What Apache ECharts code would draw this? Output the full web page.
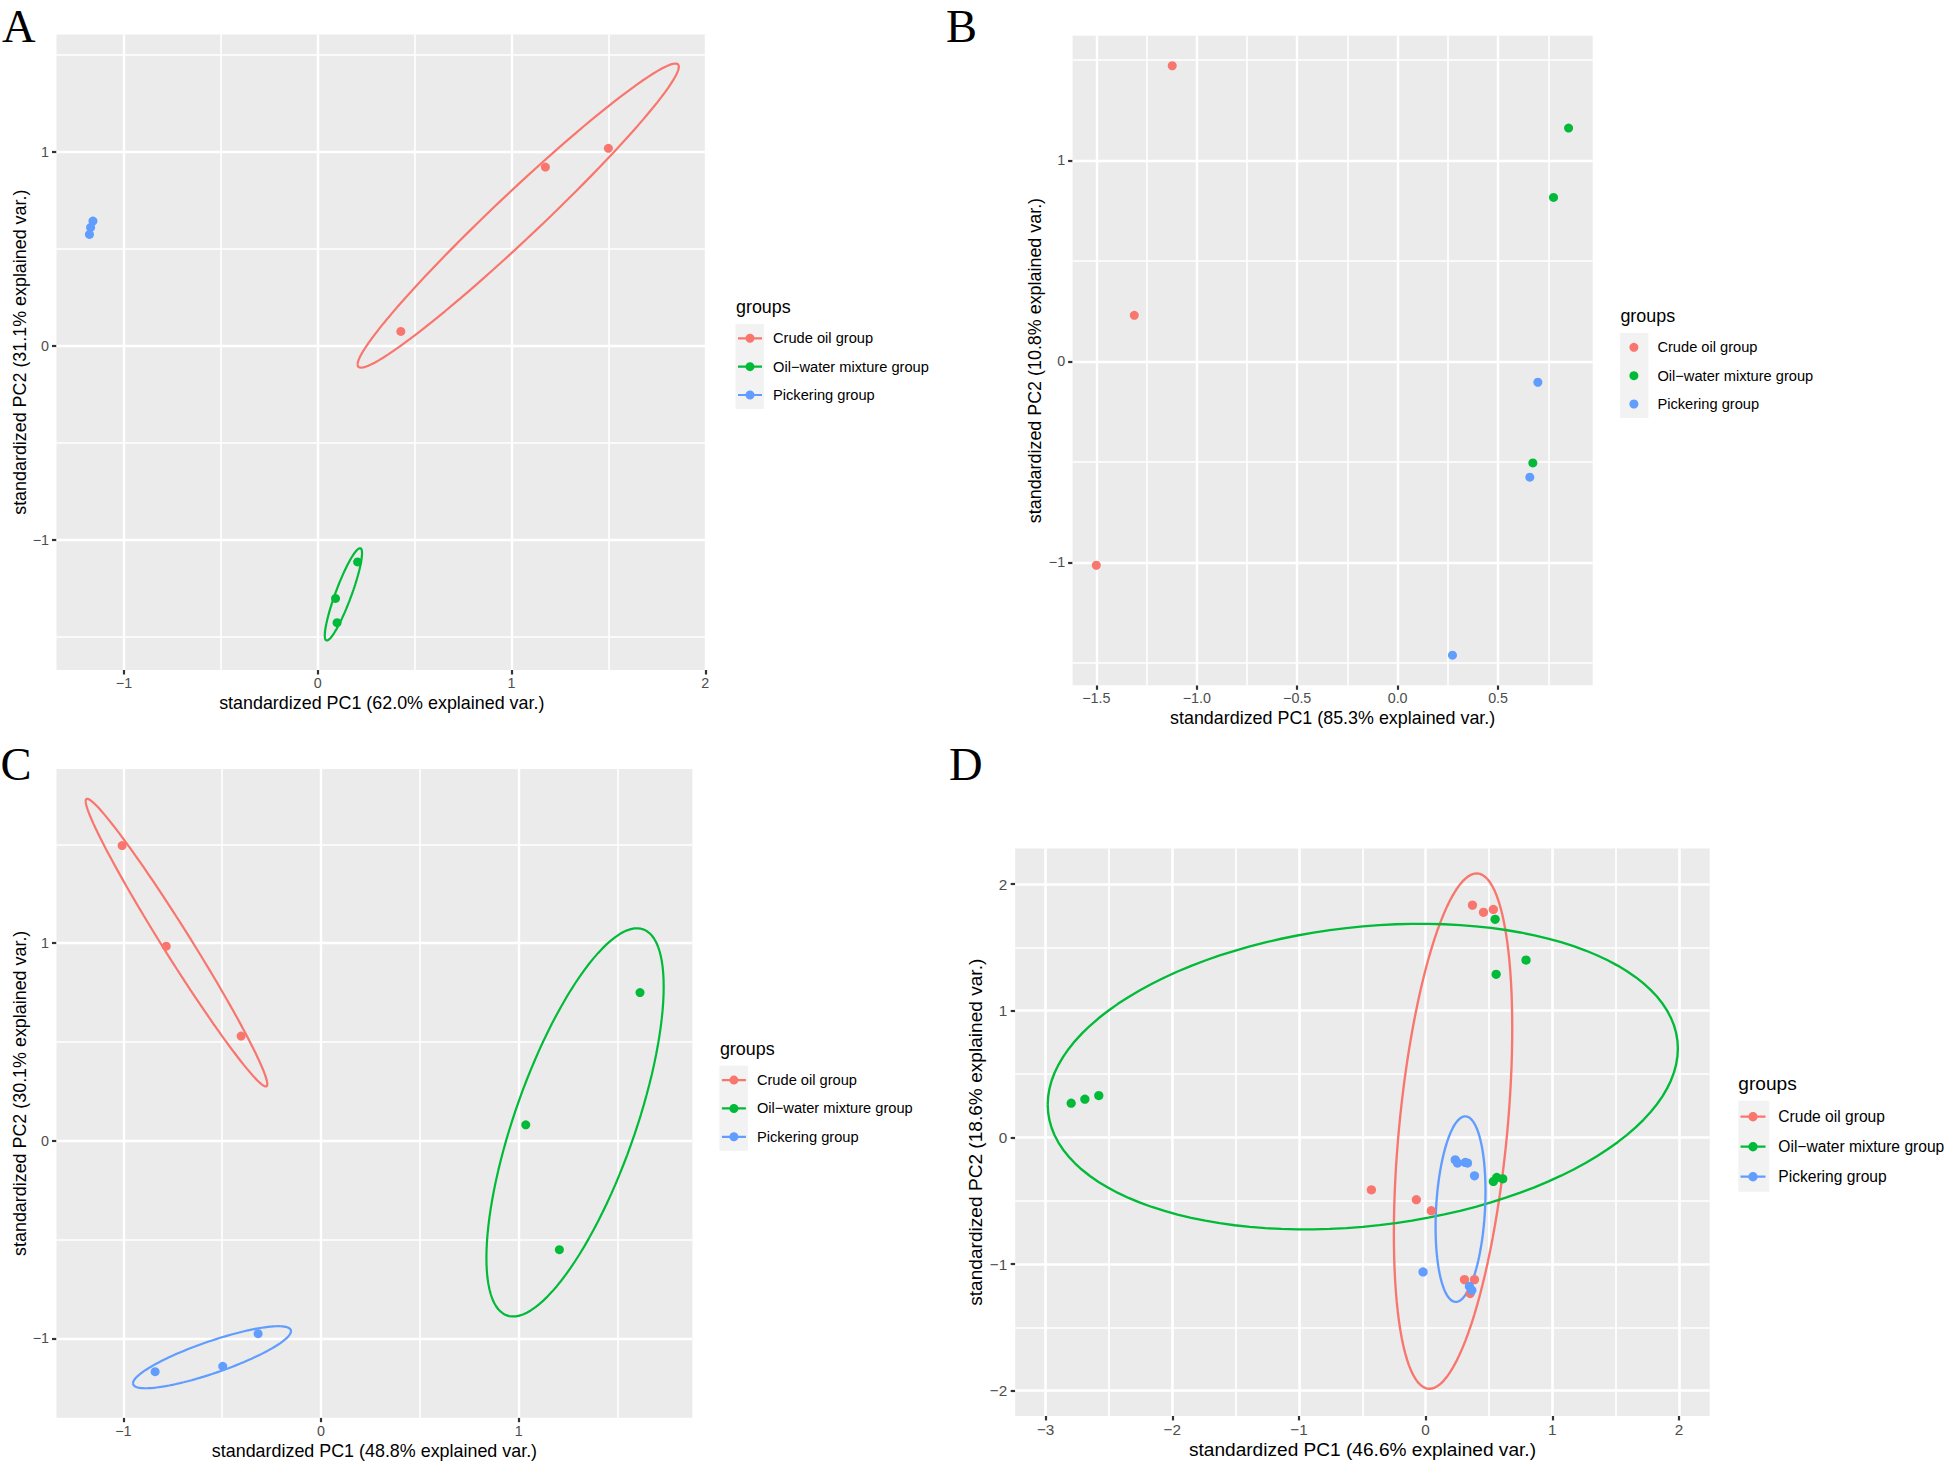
<!DOCTYPE html>
<html>
<head>
<meta charset="utf-8">
<script src="https://cdn.jsdelivr.net/npm/echarts@6/dist/echarts.min.js"></script>
<style>
html,body{margin:0;padding:0;background:#ffffff;}
#chart{width:1945px;height:1461px;}
</style>
</head>
<body>
<div id="chart"></div>
<script>
// ---------------- DATA ----------------
const GROUPS = ["Crude oil group", "Oil\u2212water mixture group", "Pickering group"];

// Panel A
const A_crude     = [[0.429, 0.076], [1.175, 0.923], [1.500, 1.020]];
const A_oilwater  = [[0.206, -1.112], [0.092, -1.300], [0.100, -1.425]];
const A_pickering = [[-1.160, 0.645], [-1.172, 0.612], [-1.178, 0.576]];
const A_xTicks = [-1, 0, 1, 2];
const A_xTickLabels = ["\u22121", "0", "1", "2"];
const A_xMinor = [-0.5, 0.5, 1.5];
const A_yTicks = [-1, 0, 1];
const A_yTickLabels = ["\u22121", "0", "1"];
const A_yMinor = [-1.5, -0.5, 0.5, 1.5];
const A_xTitle = "standardized PC1 (62.0% explained var.)";
const A_yTitle = "standardized PC2 (31.1% explained var.)";

// Panel B
const B_crude     = [[-1.122, 1.470], [-1.311, 0.229], [-1.500, -1.014]];
const B_oilwater  = [[0.851, 1.160], [0.776, 0.815], [0.673, -0.505]];
const B_pickering = [[0.698, -0.104], [0.658, -0.576], [0.273, -1.461]];
const B_xTicks = [-1.5, -1.0, -0.5, 0.0, 0.5];
const B_xTickLabels = ["\u22121.5", "\u22121.0", "\u22120.5", "0.0", "0.5"];
const B_xMinor = [-1.25, -0.75, -0.25, 0.25, 0.75];
const B_yTicks = [-1, 0, 1];
const B_yTickLabels = ["\u22121", "0", "1"];
const B_yMinor = [-1.5, -0.5, 0.5, 1.5];
const B_xTitle = "standardized PC1 (85.3% explained var.)";
const B_yTitle = "standardized PC2 (10.8% explained var.)";

// Panel C
const C_crude     = [[-1.006, 1.494], [-0.783, 0.985], [-0.404, 0.530]];
const C_oilwater  = [[1.614, 0.750], [1.036, 0.081], [1.206, -0.551]];
const C_pickering = [[-0.839, -1.168], [-0.497, -1.141], [-0.318, -0.976]];
const C_xTicks = [-1, 0, 1];
const C_xTickLabels = ["\u22121", "0", "1"];
const C_xMinor = [-0.5, 0.5, 1.5];
const C_yTicks = [-1, 0, 1];
const C_yTickLabels = ["\u22121", "0", "1"];
const C_yMinor = [-0.5, 0.5, 1.5];
const C_xTitle = "standardized PC1 (48.8% explained var.)";
const C_yTitle = "standardized PC2 (30.1% explained var.)";

// Panel D
const D_crude     = [[0.370, 1.834], [0.457, 1.777], [0.535, 1.800], [-0.428, -0.414], [-0.073, -0.492],
                     [0.045, -0.579], [0.307, -1.123], [0.386, -1.123], [0.352, -1.233]];
const D_oilwater  = [[-2.798, 0.270], [-2.690, 0.302], [-2.580, 0.330], [0.549, 1.722], [0.557, 1.288],
                     [0.793, 1.400], [0.535, -0.348], [0.562, -0.316], [0.609, -0.327]];
const D_pickering = [[0.234, -0.177], [0.252, -0.203], [0.313, -0.198], [0.331, -0.203], [0.386, -0.303],
                     [-0.020, -1.062], [0.346, -1.176], [0.365, -1.207]];
const D_xTicks = [-3, -2, -1, 0, 1, 2];
const D_xTickLabels = ["\u22123", "\u22122", "\u22121", "0", "1", "2"];
const D_xMinor = [-2.5, -1.5, -0.5, 0.5, 1.5];
const D_yTicks = [-2, -1, 0, 1, 2];
const D_yTickLabels = ["\u22122", "\u22121", "0", "1", "2"];
const D_yMinor = [-1.5, -0.5, 0.5, 1.5];
const D_xTitle = "standardized PC1 (46.6% explained var.)";
const D_yTitle = "standardized PC2 (18.6% explained var.)";

// ---------------- STYLE / LAYOUT ----------------
const COLORS = ["#F8766D", "#00BA38", "#619CFF"];
const SANS = "'Liberation Sans', Arial, Helvetica, sans-serif";
const SERIF = "'Liberation Serif', 'Times New Roman', serif";
const ELLIPSE_PROB = 0.68;

// normal-data ellipse (as in ggbiplot): mean + sqrt(qchisq(p,2)) * circle %*% chol(cov)
function ellipse(pts, prob, n) {
  const m = pts.length;
  let mx = 0, my = 0;
  pts.forEach(p => { mx += p[0]; my += p[1]; });
  mx /= m; my /= m;
  let sxx = 0, syy = 0, sxy = 0;
  pts.forEach(p => {
    const dx = p[0] - mx, dy = p[1] - my;
    sxx += dx * dx; syy += dy * dy; sxy += dx * dy;
  });
  sxx /= (m - 1); syy /= (m - 1); sxy /= (m - 1);
  const ed = Math.sqrt(-2 * Math.log(1 - prob));
  const r11 = Math.sqrt(sxx);
  const r12 = r11 > 0 ? sxy / r11 : 0;
  const r22 = Math.sqrt(Math.max(syy - r12 * r12, 0));
  const out = [];
  for (let i = 0; i <= n; i++) {
    const t = -Math.PI + 2 * Math.PI * i / n;
    const c = Math.cos(t), s = Math.sin(t);
    out.push([mx + ed * c * r11, my + ed * (c * r12 + s * r22)]);
  }
  return out;
}

const panels = [
  { key: "A", groups: [A_crude, A_oilwater, A_pickering], ellipses: true,
    grid: { left: 56.5, top: 34.4, width: 650.5, height: 635.6 },
    xr: [-1.348, 2.009], yr: [-1.669, 1.607],
    xT: A_xTicks, xL: A_xTickLabels, xM: A_xMinor, yT: A_yTicks, yL: A_yTickLabels, yM: A_yMinor,
    xTitle: A_xTitle, yTitle: A_yTitle, fs: 14.3, tfs: 17.9, xGap: 24, yGap: 28, k: 1 },
  { key: "B", groups: [B_crude, B_oilwater, B_pickering], ellipses: false,
    grid: { left: 1072.6, top: 35.8, width: 520.1, height: 649.5 },
    xr: [-1.618, 0.971], yr: [-1.611, 1.619],
    xT: B_xTicks, xL: B_xTickLabels, xM: B_xMinor, yT: B_yTicks, yL: B_yTickLabels, yM: B_yMinor,
    xTitle: B_xTitle, yTitle: B_yTitle, fs: 14.3, tfs: 17.9, xGap: 24, yGap: 29, k: 1 },
  { key: "C", groups: [C_crude, C_oilwater, C_pickering], ellipses: true,
    grid: { left: 56.5, top: 768.9, width: 635.9, height: 648.8 },
    xr: [-1.338, 1.879], yr: [-1.401, 1.882],
    xT: C_xTicks, xL: C_xTickLabels, xM: C_xMinor, yT: C_yTicks, yL: C_yTickLabels, yM: C_yMinor,
    xTitle: C_xTitle, yTitle: C_yTitle, fs: 14.3, tfs: 17.9, xGap: 24, yGap: 28, k: 1 },
  { key: "D", groups: [D_crude, D_oilwater, D_pickering], ellipses: true,
    grid: { left: 1015.2, top: 848.5, width: 694.5, height: 567.4 },
    xr: [-3.240, 2.243], yr: [-2.199, 2.281],
    xT: D_xTicks, xL: D_xTickLabels, xM: D_xMinor, yT: D_yTicks, yL: D_yTickLabels, yM: D_yMinor,
    xTitle: D_xTitle, yTitle: D_yTitle, fs: 15.3, tfs: 19.1, xGap: 24, yGap: 30.5, k: 1.065 }
];

function labelFor(ticks, labels) {
  return function (v) {
    for (let i = 0; i < ticks.length; i++) if (Math.abs(ticks[i] - v) < 1e-9) return labels[i];
    return "";
  };
}

const grids = [], xAxes = [], yAxes = [], series = [];
panels.forEach((p, i) => {
  grids.push(Object.assign({ show: true, backgroundColor: "#EBEBEB", borderWidth: 0,
    containLabel: false, outerBoundsMode: "none" }, p.grid));
  const tickStyle = { show: true, length: 4.5, inside: false, lineStyle: { color: "#333333", width: 2.2 } };
  xAxes.push({
    type: "value", gridIndex: i, min: p.xr[0], max: p.xr[1],
    axisLine: { show: false, onZero: false },
    axisTick: Object.assign({ customValues: p.xT }, tickStyle),
    axisLabel: { customValues: p.xT, formatter: labelFor(p.xT, p.xL), color: "#4D4D4D",
      fontSize: p.fs, fontFamily: SANS, margin: 6 * p.k, hideOverlap: false },
    splitLine: { show: false }, minorSplitLine: { show: false },
    name: p.xTitle, nameLocation: "middle", nameGap: p.xGap,
    nameTextStyle: { color: "#000000", fontSize: p.tfs, fontFamily: SANS }
  });
  yAxes.push({
    type: "value", gridIndex: i, min: p.yr[0], max: p.yr[1],
    axisLine: { show: false, onZero: false },
    axisTick: Object.assign({ customValues: p.yT }, tickStyle),
    axisLabel: { customValues: p.yT, formatter: labelFor(p.yT, p.yL), color: "#4D4D4D",
      fontSize: p.fs, fontFamily: SANS, margin: 7.5 * p.k, hideOverlap: false },
    splitLine: { show: false }, minorSplitLine: { show: false },
    name: p.yTitle, nameLocation: "middle", nameGap: p.yGap, nameRotate: 90,
    nameTextStyle: { color: "#000000", fontSize: p.tfs, fontFamily: SANS }
  });

  // grid lines (major + minor) as white reference lines
  const maj = 2.4 * p.k, mnr = 1.6 * p.k;
  const ml = [];
  p.xM.forEach(v => ml.push({ xAxis: v, lineStyle: { width: mnr } }));
  p.yM.forEach(v => ml.push({ yAxis: v, lineStyle: { width: mnr } }));
  p.xT.forEach(v => ml.push({ xAxis: v, lineStyle: { width: maj } }));
  p.yT.forEach(v => ml.push({ yAxis: v, lineStyle: { width: maj } }));
  series.push({
    type: "line", name: "gridlines " + p.key, xAxisIndex: i, yAxisIndex: i, data: [],
    silent: true, z: 1,
    markLine: { silent: true, z: 1, animation: false, symbol: ["none", "none"],
      label: { show: false }, emphasis: { disabled: true },
      lineStyle: { color: "#FFFFFF", type: "solid", width: maj }, data: ml }
  });

  p.groups.forEach((pts, g) => {
    if (p.ellipses) {
      series.push({
        type: "line", name: GROUPS[g] + " ellipse " + p.key, xAxisIndex: i, yAxisIndex: i,
        data: ellipse(pts, ELLIPSE_PROB, 120), showSymbol: false, symbol: "none", smooth: false,
        silent: true, z: 3, lineStyle: { color: COLORS[g], width: 2.2 * p.k },
        emphasis: { disabled: true }
      });
    }
    series.push({
      type: "scatter", name: GROUPS[g], xAxisIndex: i, yAxisIndex: i, data: pts,
      symbol: "circle", symbolSize: 9 * (p.k > 1 ? 1.03 : 1), silent: true, z: 4,
      itemStyle: { color: COLORS[g], opacity: 1, borderWidth: 0 },
      emphasis: { disabled: true }
    });
  });
});

// legend icons
const ICON_LINE = "path://M0,3.4 L24,3.4 L24,5.6 L0,5.6 Z M16.5,4.5 A4.5,4.5 0 1 1 7.5,4.5 A4.5,4.5 0 1 1 16.5,4.5 Z";

function legendCfg(left, top, gap, icon, fs, lh, pad, w, h) {
  return {
    show: true, orient: "vertical", left: left, top: top, padding: 0, itemGap: gap,
    itemWidth: w, itemHeight: h, icon: icon, selectedMode: false, data: GROUPS,
    textStyle: { color: "#000000", fontSize: fs, fontFamily: SANS, lineHeight: lh, padding: [0, 0, 0, pad] }
  };
}
const legends = [
  legendCfg(738, 330.3, 12.35, ICON_LINE, 14.65, 16, 6, 24, 9),
  legendCfg(1629.4, 339.3, 12.35, "circle", 14.65, 16, 6.5, 24, 9),
  legendCfg(721.9, 1072.1, 12.35, ICON_LINE, 14.65, 16, 6, 24, 9),
  legendCfg(1740.5, 1108.2, 13, ICON_LINE, 15.6, 17, 7.8, 25, 9.4)
];

function keyRect(x, y, w, h) {
  return { type: "rect", z: 0, silent: true, shape: { x: x, y: y, width: w, height: h },
    style: { fill: "#F2F2F2" } };
}
function txt(x, y, s, font) {
  return { type: "text", z: 10, silent: true, x: x, y: y,
    style: { text: s, font: font, fill: "#000000", align: "left", verticalAlign: "middle" } };
}
const graphics = [
  keyRect(735.5, 324, 28.5, 85), keyRect(1619.9, 333, 28.5, 85),
  keyRect(719.4, 1065.8, 28.5, 85), keyRect(1738.3, 1100.7, 31, 91),
  txt(736, 306.7, "groups", "17.9px " + SANS),
  txt(1620.4, 315.7, "groups", "17.9px " + SANS),
  txt(719.9, 1048.5, "groups", "17.9px " + SANS),
  txt(1738.3, 1083.3, "groups", "19.1px " + SANS),
  txt(2, 26, "A", "46.5px " + SERIF),
  txt(946, 26.5, "B", "46.5px " + SERIF),
  txt(0.5, 764.5, "C", "46.5px " + SERIF),
  txt(949, 764.7, "D", "46.5px " + SERIF)
];

const chart = echarts.init(document.getElementById("chart"), null, { renderer: "svg", width: 1945, height: 1461 });
chart.setOption({
  animation: false,
  backgroundColor: "#FFFFFF",
  textStyle: { fontFamily: SANS },
  grid: grids, xAxis: xAxes, yAxis: yAxes,
  legend: legends,
  graphic: graphics,
  series: series
});
</script>
</body>
</html>
